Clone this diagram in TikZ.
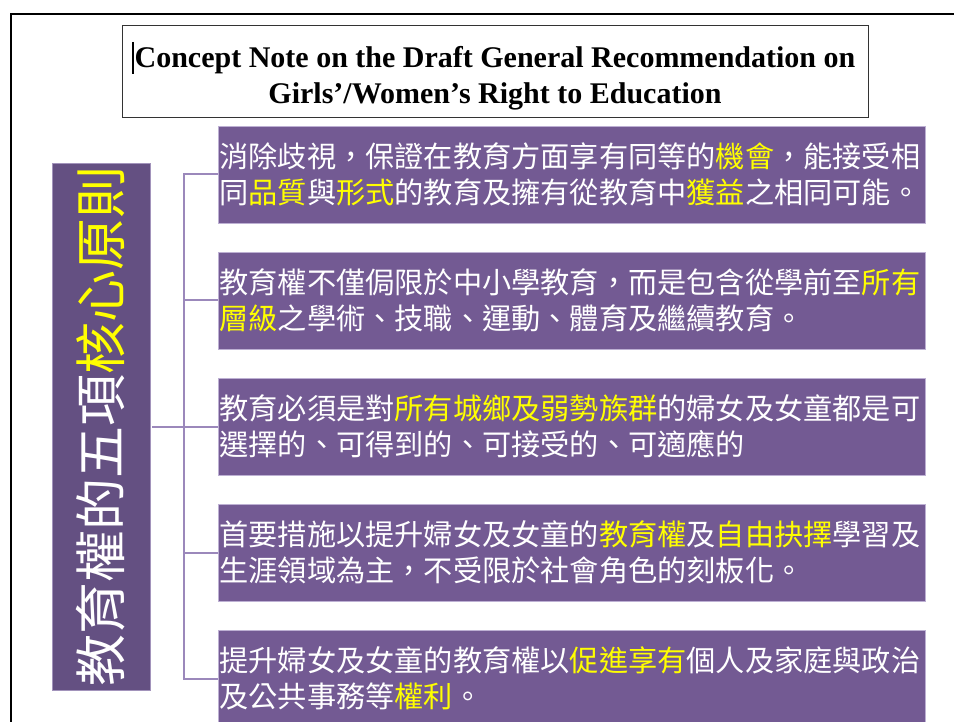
\documentclass[tikz,border=0pt]{standalone}
\usepackage{fontspec}
\setmainfont{Liberation Serif}
\newfontfamily\cjk{Noto Sans CJK TC}
\definecolor{hl}{HTML}{FFFF00}
\definecolor{leftpurple}{HTML}{645082}
\definecolor{boxpurple}{HTML}{735A93}
\definecolor{boxedge}{HTML}{BDB0D3}
\definecolor{connc}{HTML}{9B88BB}
\begin{document}
\begin{tikzpicture}[x=1pt,y=-1pt,
  pbox/.style={fill=boxpurple, draw=boxedge, line width=0.8pt, minimum width=707pt, minimum height=97pt,
     inner xsep=1.5pt, inner ysep=0pt, text width=704pt, align=left, text=white,
     font=\cjk\fontsize{29.2}{36}\selectfont},
  lbox/.style={fill=leftpurple, draw=boxedge!70!leftpurple, line width=0.6pt, minimum width=98pt, minimum height=527pt, inner sep=0pt},
  conn/.style={draw=connc, line width=2pt},
  ttl/.style={font=\bfseries\fontsize{30}{36}\selectfont, anchor=base, inner sep=0pt}
]
\useasboundingbox (0,0) rectangle (954,722);
\clip (0,0) rectangle (954,722);
\fill[white] (0,0) rectangle (954,722);
% slide frame
\draw[black, line width=2.5pt] (11,800) -- (11,14) -- (1000,14);
% title
\node[draw=black!80, line width=0.8pt, minimum width=746pt, minimum height=92pt, inner sep=0pt] (tbox) at (495,71) {};
\node[ttl] (t1) at (495,68) {Concept Note on the Draft General Recommendation on};
\node[ttl] (t2) at (495,104) {Girls’/Women’s Right to Education};
\draw[black, line width=1.8pt] (133,42) -- (133,74);
% left label box
\node[lbox] (L) at (101,426.5) {};
\node[rotate=90, text=white, inner sep=0pt, font=\cjk\fontsize{52}{52}\selectfont] (Ltxt) at (101,426.5) {教育權的五項\textcolor{hl}{核心原則}};
% right boxes
\node[pbox] (b1) at (571.5,174.5) {消除歧視，保證在教育方面享有同等的\textcolor{hl}{機會}，能接受相\\同\textcolor{hl}{品質}與\textcolor{hl}{形式}的教育及擁有從教育中\textcolor{hl}{獲益}之相同可能。};
\node[pbox] (b2) at (571.5,300.5) {教育權不僅侷限於中小學教育，而是包含從學前至\textcolor{hl}{所有}\\\textcolor{hl}{層級}之學術、技職、運動、體育及繼續教育。};
\node[pbox] (b3) at (571.5,426.5) {教育必須是對\textcolor{hl}{所有城鄉及弱勢族群}的婦女及女童都是可\\選擇的、可得到的、可接受的、可適應的};
\node[pbox] (b4) at (571.5,552.5) {首要措施以提升婦女及女童的\textcolor{hl}{教育權}及\textcolor{hl}{自由抉擇}學習及\\生涯領域為主，不受限於社會角色的刻板化。};
\node[pbox] (b5) at (571.5,678.5) {提升婦女及女童的教育權以\textcolor{hl}{促進享有}個人及家庭與政治\\及公共事務等\textcolor{hl}{權利}。};
% connectors
\coordinate (trunk) at (184,426.5);
\draw[conn] ([xshift=2pt]L.east) -- (trunk);
\draw[conn] (b1.west) -| (trunk);
\draw[conn] (b2.west) -| (trunk);
\draw[conn] (b3.west) -- (trunk);
\draw[conn] (b4.west) -| (trunk);
\draw[conn] (b5.west) -| (trunk);
\end{tikzpicture}
\end{document}
